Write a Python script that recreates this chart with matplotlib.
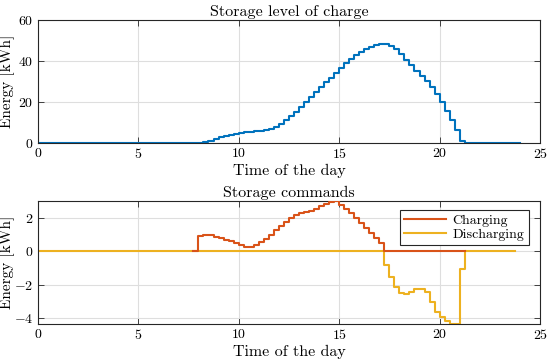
import numpy as np
import matplotlib
matplotlib.use("Agg")
import matplotlib.pyplot as plt

plt.rcParams['font.family'] = 'serif'
plt.rcParams['font.serif'] = ['cmr10']
plt.rcParams['mathtext.fontset'] = 'cm'
plt.rcParams['axes.formatter.use_mathtext'] = True
plt.rcParams['axes.unicode_minus'] = False

# time grid (15 min steps)
t_level = np.arange(0, 24.001, 0.25)        # 0 .. 24
t_cmd = np.arange(0, 23.751, 0.25)          # 0 .. 23.75
t_charge = np.arange(7.75, 21.251, 0.25)    # 7.75 .. 21.25

# storage level [kWh], 8.25 .. 21.0, zero elsewhere
level = [0.0] * 33 + [
    0.5, 1.2, 1.9, 2.8, 3.5, 4.1, 4.6, 5.0, 5.3, 5.5, 5.7, 6.0, 6.3, 6.9, 7.8, 9.3,
    11.1, 13.1, 15.3, 17.7, 20.2, 22.6, 25.0, 27.3, 29.6, 31.9, 34.2, 36.5, 38.8,
    40.9, 42.8, 44.4, 45.8, 46.9, 47.7, 48.2,
    48.4, 47.5, 45.8, 43.4, 40.5, 37.8, 35.2, 32.7, 30.2, 27.5, 24.1, 20.1, 15.6,
    11.0, 6.1, 1.2,
] + [0.0] * 12

# charging command [kWh], 8.0 .. 17.0
charging = [0.0] + [
    0.93, 0.98, 0.95, 0.88, 0.80, 0.70, 0.60, 0.50, 0.38, 0.25,
    0.24, 0.35, 0.55, 0.75, 0.98, 1.25, 1.50, 1.75, 2.00, 2.20,
    2.30, 2.35, 2.40, 2.55, 2.70, 2.85, 2.98, 3.00, 2.80, 2.55,
    2.28, 2.00, 1.68, 1.40, 1.10, 0.80, 0.50,
] + [0.0] * 17

# discharging command [kWh], 17.25 .. 21.0
discharging = [0.0] * 69 + [
    -0.80, -1.54, -2.17, -2.50, -2.57, -2.43, -2.28, -2.25,
    -2.43, -3.03, -3.63, -3.93, -4.17, -4.37, -4.37, -1.04,
] + [0.0] * 11

c_blue = '#0072BD'
c_orange = '#D95319'
c_yellow = '#EDB120'


def style(ax):
    ax.set_xlim(0, 25)
    ax.set_xticks([0, 5, 10, 15, 20, 25])
    ax.grid(True, color='#dedede', linewidth=0.8)
    ax.set_axisbelow(True)
    for sp in ax.spines.values():
        sp.set_color('#262626')
        sp.set_linewidth(0.8)
    ax.tick_params(direction='in', top=True, right=True, length=4,
                   width=0.6, color='#262626', labelsize=10, pad=3)
    ax.set_xlabel('Time of the day', fontsize=11.5, labelpad=2)
    ax.set_ylabel('Energy [kWh]', fontsize=11)
    ax.yaxis.set_label_coords(-0.046, 0.5)


fig = plt.figure(figsize=(5.5, 3.62), dpi=100)
ax1 = fig.add_axes([0.0685, 0.605, 0.9135, 0.34])
ax2 = fig.add_axes([0.0685, 0.105, 0.9135, 0.339])

ax1.step(t_level, level, where='post', color=c_blue, lw=1.5)
ax1.set_ylim(0, 60)
ax1.set_yticks([0, 20, 40, 60])
ax1.set_title('Storage level of charge', fontsize=11.5, pad=3)
style(ax1)

ax2.step(t_cmd, discharging, where='post', color=c_yellow, lw=1.5,
         label='Discharging', zorder=2)
ax2.step(t_charge, charging, where='post', color=c_orange, lw=1.5,
         label='Charging', zorder=3)
ax2.set_ylim(min(discharging), max(charging))
ax2.set_yticks([-4, -2, 0, 2])
ax2.set_title('Storage commands', fontsize=11.5, pad=3)
style(ax2)

h, l = ax2.get_legend_handles_labels()
leg = ax2.legend(h[::-1], l[::-1], loc='upper right',
                 bbox_to_anchor=(0.977, 0.93), fontsize=10,
                 fancybox=False, framealpha=1, edgecolor='#262626',
                 handlelength=3.0, borderpad=0.3, labelspacing=0.1,
                 handletextpad=0.5, borderaxespad=0)
leg.get_frame().set_linewidth(0.8)

fig.savefig('out.png', dpi=100)
